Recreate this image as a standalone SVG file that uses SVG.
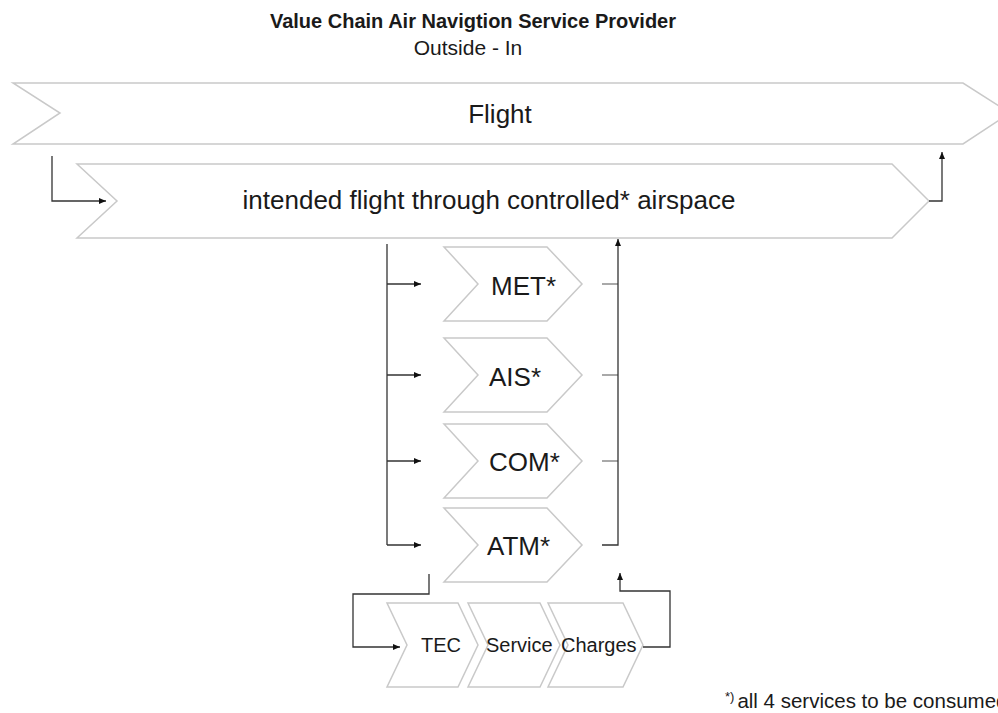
<svg xmlns="http://www.w3.org/2000/svg" width="998" height="713" viewBox="0 0 998 713">
<style>
.chev{fill:#ffffff;stroke:#c9c9c9;stroke-width:1.5}
.lbl{font-family:"Liberation Sans",Arial,Helvetica,sans-serif;fill:#1a1a1a}
.conn{fill:none;stroke:#333333;stroke-width:1.3}
.stub{fill:none;stroke:#8c8c8c;stroke-width:1.5}
</style>
<defs>
<marker id="arr" markerUnits="userSpaceOnUse" markerWidth="7" markerHeight="6" refX="7" refY="3" orient="auto">
<path d="M0,0 L7,3 L0,6 z" fill="#111111"/>
</marker>
</defs>
<rect width="998" height="713" fill="#ffffff"/>
<g id="title">
<text class="lbl" x="473" y="28" font-size="20" font-weight="bold" text-anchor="middle">Value Chain Air Navigtion Service Provider</text>
<text class="lbl" x="468" y="55" font-size="21" text-anchor="middle">Outside - In</text>
</g>
<g id="flight">
<polygon class="chev" points="13,83 963,83 1010,113 963,144 13,144 60,113"/>
<text class="lbl" x="500" y="123" font-size="26" text-anchor="middle">Flight</text>
</g>
<g id="intended">
<polygon class="chev" points="77,164 892,164 929,201 892,238 77,238 117,201"/>
<text class="lbl" x="489" y="209" font-size="26" text-anchor="middle">intended flight through controlled* airspace</text>
</g>
<g id="met">
<polygon class="chev" points="444,247 547,247 582,284 547,321 444,321 478,284"/>
<text class="lbl" x="491" y="295" font-size="26">MET*</text>
</g>
<g id="ais">
<polygon class="chev" points="444,338 547,338 582,375 547,412 444,412 478,375"/>
<text class="lbl" x="489" y="386" font-size="26">AIS*</text>
</g>
<g id="com">
<polygon class="chev" points="444,424 547,424 582,461 547,498 444,498 478,461"/>
<text class="lbl" x="489" y="471" font-size="26">COM*</text>
</g>
<g id="atm">
<polygon class="chev" points="444,508 547,508 582,545 547,582 444,582 478,545"/>
<text class="lbl" x="487" y="555" font-size="26">ATM*</text>
</g>
<g id="tec">
<polygon class="chev" points="387,603 458,603 478,645 458,687 387,687 407,645"/>
<text class="lbl" x="421" y="652" font-size="20">TEC</text>
</g>
<g id="service">
<polygon class="chev" points="468,603 540,603 560,645 540,687 468,687 488,645"/>
<text class="lbl" x="486" y="652" font-size="20">Service</text>
</g>
<g id="charges">
<polygon class="chev" points="548,603 623,603 643,645 623,687 548,687 568,645"/>
<text class="lbl" x="561" y="652" font-size="20">Charges</text>
</g>
<g id="connectors">
<path class="conn" d="M52,156 V201 H106" marker-end="url(#arr)"/>
<path class="conn" d="M929,201 H942 V152" marker-end="url(#arr)"/>
<path class="conn" d="M387,244 V545"/>
<path class="conn" d="M387,284 H421" marker-end="url(#arr)"/>
<path class="conn" d="M387,375 H421" marker-end="url(#arr)"/>
<path class="conn" d="M387,461 H421" marker-end="url(#arr)"/>
<path class="conn" d="M387,545 H421" marker-end="url(#arr)"/>
<path class="stub" d="M602,284 H618"/>
<path class="stub" d="M602,375 H618"/>
<path class="stub" d="M602,461 H618"/>
<path class="conn" d="M602,545 H618 V239" marker-end="url(#arr)"/>
<path class="conn" d="M429,574 V594 H353 V647 H400" marker-end="url(#arr)"/>
<path class="conn" d="M643,647 H670 V591 H620 V573" marker-end="url(#arr)"/>
</g>
<g id="footnote">
<text class="lbl" x="742" y="708" font-size="20.5"><tspan font-size="13" dy="-7" dx="-17">*)</tspan><tspan dy="7" dx="3">all 4 services to be consumed</tspan></text>
</g>
</svg>
